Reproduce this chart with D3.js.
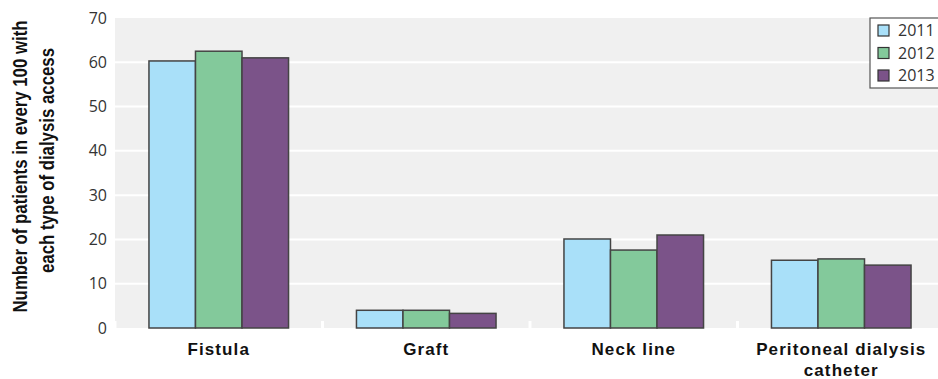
<!DOCTYPE html>
<html>
<head>
<meta charset="utf-8">
<script src="https://cdn.jsdelivr.net/npm/d3@7"></script>
<style>
  body { margin: 0; background: #fff; }
  svg { display: block; }
</style>
</head>
<body>
<div id="canvas"></div>
<script>
// chart data
let categories = ["Fistula", "Graft", "Neck line", "Peritoneal dialysis catheter"];
let years = ["2011", "2012", "2013"];
let values2011 = [60.3, 4.0, 20.1, 15.3];
let values2012 = [62.5, 4.0, 17.6, 15.6];
let values2013 = [61.0, 3.3, 21.0, 14.2];
let yTicks = [0, 10, 20, 30, 40, 50, 60, 70];

let series = [values2011, values2012, values2013];
let colors = ["#a9e0f9", "#83c99b", "#7b5389"];

let width = 938, height = 379;
let plotLeft = 115, plotTop = 18, plotBottom = 328;

let drawing = d3.select("#canvas")
    .append("svg")
    .attr("width", width)
    .attr("height", height);

let x = d3.scaleBand()
    .domain(categories)
    .range([plotLeft, plotLeft + 4 * 207.5])
    .paddingInner(0)
    .paddingOuter(0);

let xInner = d3.scaleBand()
    .domain(years)
    .range([0, x.bandwidth()])
    .paddingInner(0)
    .paddingOuter(0.73);

let y = d3.scaleLinear()
    .domain([0, 70])
    .range([plotBottom, plotTop]);

// plot background
drawing.append("rect")
    .attr("x", plotLeft)
    .attr("y", plotTop)
    .attr("width", width - plotLeft)
    .attr("height", plotBottom - plotTop)
    .attr("fill", "#f0f0f0");

// white gridlines
drawing.append("g")
    .selectAll("line")
    .data(yTicks.filter(d => d > 0 && d < 70))
    .join("line")
    .attr("x1", plotLeft)
    .attr("x2", width)
    .attr("y1", d => y(d))
    .attr("y2", d => y(d))
    .attr("stroke", "#fff")
    .attr("stroke-width", 2);

// white separators between categories at the base
drawing.append("g")
    .selectAll("line")
    .data(categories)
    .join("line")
    .attr("x1", d => x(d))
    .attr("x2", d => x(d))
    .attr("y1", plotBottom - 7)
    .attr("y2", plotBottom)
    .attr("stroke", "#fff")
    .attr("stroke-width", 3);

// bars
let groups = drawing.append("g")
    .selectAll("g")
    .data(categories)
    .join("g")
    .attr("transform", d => "translate(" + x(d) + ",0)");

groups.selectAll("rect")
    .data((c, i) => years.map((yr, j) => ({ yr: yr, v: series[j][i], j: j })))
    .join("rect")
    .attr("x", d => xInner(d.yr))
    .attr("y", d => y(d.v))
    .attr("width", xInner.bandwidth())
    .attr("height", d => y(0) - y(d.v))
    .attr("fill", d => colors[d.j])
    .attr("stroke", "#444")
    .attr("stroke-width", 1.5);

// y axis labels
let yAxis = drawing.append("g")
    .attr("transform", "translate(" + (plotLeft - 8) + ",0)")
    .call(d3.axisLeft(y).tickValues(yTicks).tickSize(0).tickPadding(0));
yAxis.select(".domain").remove();
yAxis.selectAll("text")
    .attr("font-family", "'Open Sans', 'DejaVu Sans', sans-serif")
    .attr("font-size", 16)
    .attr("fill", "#333");

// y title (condensed bold, two lines)
let titleFont = "'Liberation Sans Narrow', 'Liberation Sans', sans-serif";
drawing.append("text")
    .attr("transform", "translate(27,166.5) rotate(-90)")
    .attr("text-anchor", "middle")
    .attr("font-family", titleFont)
    .attr("font-size", 20)
    .attr("font-weight", "bold")
    .attr("fill", "#111")
    .attr("textLength", 292)
    .attr("lengthAdjust", "spacingAndGlyphs")
    .text("Number of patients in every 100 with");
drawing.append("text")
    .attr("transform", "translate(54,160.5) rotate(-90)")
    .attr("text-anchor", "middle")
    .attr("font-family", titleFont)
    .attr("font-size", 20)
    .attr("font-weight", "bold")
    .attr("fill", "#111")
    .attr("textLength", 225)
    .attr("lengthAdjust", "spacingAndGlyphs")
    .text("each type of dialysis access");

// category labels
let catLabels = drawing.append("g")
    .selectAll("text")
    .data(categories)
    .join("text")
    .attr("x", d => x(d) + x.bandwidth() / 2)
    .attr("y", 355)
    .attr("text-anchor", "middle")
    .attr("font-family", "'Liberation Sans', Arial, sans-serif")
    .attr("font-size", 17)
    .attr("font-weight", "bold")
    .attr("letter-spacing", 1.1)
    .attr("fill", "#111");

catLabels.each(function (d) {
    let t = d3.select(this);
    if (d === "Peritoneal dialysis catheter") {
        t.append("tspan").attr("x", x(d) + x.bandwidth() / 2).text("Peritoneal dialysis");
        t.append("tspan").attr("x", x(d) + x.bandwidth() / 2).attr("dy", 21).text("catheter");
    } else {
        t.text(d);
    }
});

// legend
let legend = drawing.append("g").attr("transform", "translate(870,18)");
legend.append("rect")
    .attr("x", 0).attr("y", 0)
    .attr("width", 90).attr("height", 70)
    .attr("fill", "#fff")
    .attr("stroke", "#555")
    .attr("stroke-width", 1.2);

let items = legend.selectAll("g.item")
    .data(years)
    .join("g")
    .attr("class", "item")
    .attr("transform", (d, i) => "translate(8," + (7 + i * 22.5) + ")");
items.append("rect")
    .attr("width", 11).attr("height", 11)
    .attr("fill", (d, i) => colors[i])
    .attr("stroke", "#333")
    .attr("stroke-width", 1.2);
items.append("text")
    .attr("x", 20).attr("y", 11)
    .attr("font-family", "'Open Sans', 'DejaVu Sans', sans-serif")
    .attr("font-size", 16)
    .attr("fill", "#333")
    .text(d => d);
</script>
</body>
</html>
